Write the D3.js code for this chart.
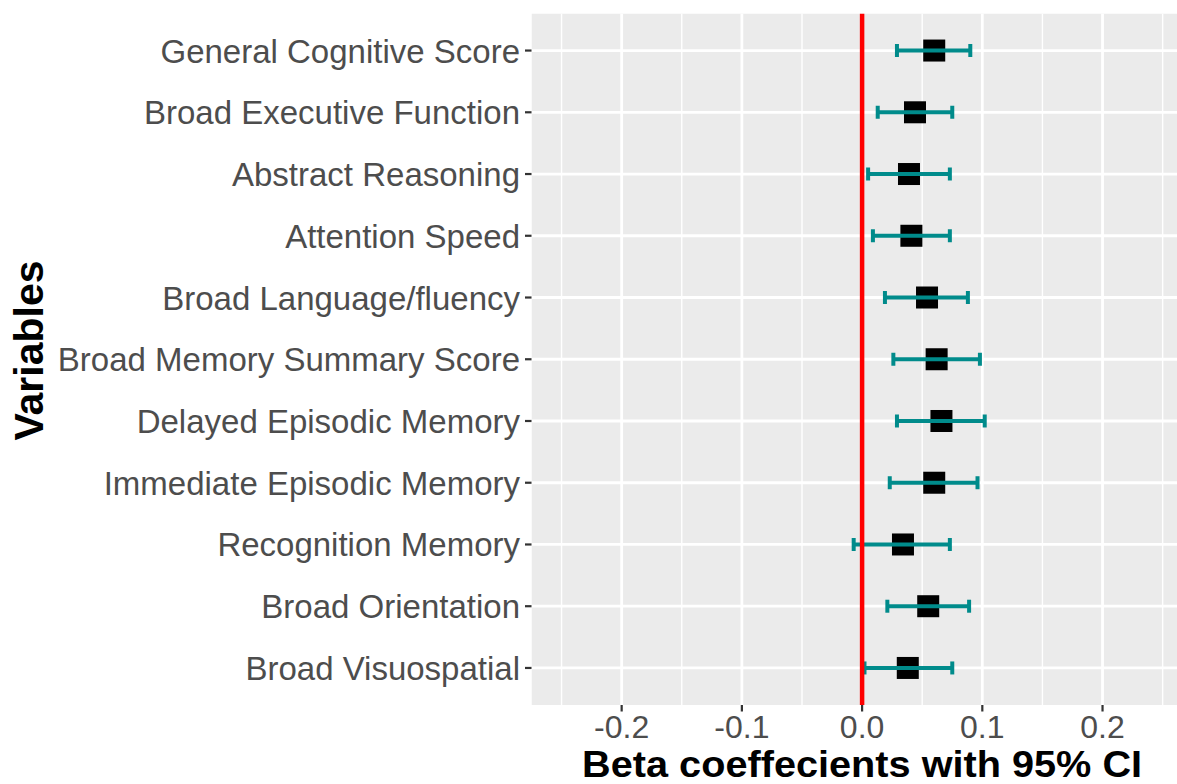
<!DOCTYPE html>
<html>
<head>
<meta charset="utf-8">
<script src="https://cdn.jsdelivr.net/npm/d3@7"></script>
<style>
  html, body { margin: 0; padding: 0; background: #fff; }
  svg { display: block; }
</style>
</head>
<body>
<svg id="chart" width="1177" height="784"></svg>
<script>
const categories = [
  "General Cognitive Score",
  "Broad Executive Function",
  "Abstract Reasoning",
  "Attention Speed",
  "Broad Language/fluency",
  "Broad Memory Summary Score",
  "Delayed Episodic Memory",
  "Immediate Episodic Memory",
  "Recognition Memory",
  "Broad Orientation",
  "Broad Visuospatial"
];
const beta  = [0.060, 0.044, 0.039, 0.041, 0.054, 0.062, 0.066, 0.060, 0.034, 0.055, 0.038];
const lower = [0.029, 0.013, 0.005, 0.009, 0.019, 0.026, 0.029, 0.023, -0.007, 0.021, 0.002];
const upper = [0.090, 0.075, 0.073, 0.073, 0.088, 0.098, 0.102, 0.096, 0.073, 0.089, 0.075];
const majorTicks = [-0.2, -0.1, 0.0, 0.1, 0.2];
const minorTicks = [-0.25, -0.15, -0.05, 0.05, 0.15, 0.25];
const tickLabels = ["-0.2", "-0.1", "0.0", "0.1", "0.2"];
const refValue = 0;
const xTitle = "Beta coeffecients with 95% CI";
const yTitle = "Variables";

const font = "'Liberation Sans', Arial, Helvetica, sans-serif";
const svg = d3.select("#chart");

const panel = { left: 531.5, right: 1192.7, top: 13.5, bottom: 705 };

const x = d3.scaleLinear().domain([-0.275, 0.275]).range([panel.left, panel.right]);
const y = d3.scalePoint().domain(categories).range([panel.top, panel.bottom]).padding(0.6);

svg.append("defs").append("clipPath").attr("id", "pclip")
  .append("rect")
  .attr("x", panel.left).attr("y", panel.top)
  .attr("width", panel.right - panel.left).attr("height", panel.bottom - panel.top);

const g = svg.append("g").attr("clip-path", "url(#pclip)");

// panel background
g.append("rect")
  .attr("x", panel.left).attr("y", panel.top)
  .attr("width", panel.right - panel.left).attr("height", panel.bottom - panel.top)
  .attr("fill", "#EBEBEB");

// minor grid
g.selectAll("line.minor").data(minorTicks).join("line")
  .attr("x1", d => x(d)).attr("x2", d => x(d))
  .attr("y1", panel.top).attr("y2", panel.bottom)
  .attr("stroke", "#fff").attr("stroke-width", 1.4);

// major grid vertical
g.selectAll("line.majorx").data(majorTicks).join("line")
  .attr("x1", d => x(d)).attr("x2", d => x(d))
  .attr("y1", panel.top).attr("y2", panel.bottom)
  .attr("stroke", "#fff").attr("stroke-width", 2.8);

// major grid horizontal
g.selectAll("line.majory").data(categories).join("line")
  .attr("x1", panel.left).attr("x2", panel.right)
  .attr("y1", d => y(d)).attr("y2", d => y(d))
  .attr("stroke", "#fff").attr("stroke-width", 2.8);

const teal = "#008B8B";
const capH = 11;

// points (squares)
const boxS = 22;
g.selectAll("rect.pt").data(categories).join("rect")
  .attr("x", (d, i) => x(beta[i]) - boxS / 2)
  .attr("y", d => y(d) - boxS / 2)
  .attr("width", boxS).attr("height", boxS)
  .attr("fill", "#000");

// error bars
const eb = g.selectAll("g.eb").data(categories).join("g");
eb.append("line")
  .attr("x1", (d, i) => x(lower[i])).attr("x2", (d, i) => x(upper[i]))
  .attr("y1", d => y(d)).attr("y2", d => y(d))
  .attr("stroke", teal).attr("stroke-width", 4);
eb.append("line")
  .attr("x1", (d, i) => x(lower[i])).attr("x2", (d, i) => x(lower[i]))
  .attr("y1", d => y(d) - capH / 2 - 1).attr("y2", d => y(d) + capH / 2 + 1)
  .attr("stroke", teal).attr("stroke-width", 4);
eb.append("line")
  .attr("x1", (d, i) => x(upper[i])).attr("x2", (d, i) => x(upper[i]))
  .attr("y1", d => y(d) - capH / 2 - 1).attr("y2", d => y(d) + capH / 2 + 1)
  .attr("stroke", teal).attr("stroke-width", 4);

// reference line
g.append("line")
  .attr("x1", x(refValue)).attr("x2", x(refValue))
  .attr("y1", panel.top).attr("y2", panel.bottom)
  .attr("stroke", "#FF0000").attr("stroke-width", 4.5);

// axes ticks
const tickColor = "#333333";
svg.selectAll("line.ytick").data(categories).join("line")
  .attr("x1", panel.left - 6.5).attr("x2", panel.left)
  .attr("y1", d => y(d)).attr("y2", d => y(d))
  .attr("stroke", tickColor).attr("stroke-width", 2.2);
svg.selectAll("line.xtick").data(majorTicks).join("line")
  .attr("x1", d => x(d)).attr("x2", d => x(d))
  .attr("y1", panel.bottom).attr("y2", panel.bottom + 6.5)
  .attr("stroke", tickColor).attr("stroke-width", 2.2);

// y labels
svg.selectAll("text.ylab").data(categories).join("text")
  .attr("x", 520).attr("y", d => y(d) + 12)
  .attr("text-anchor", "end")
  .attr("font-family", font).attr("font-size", 33)
  .attr("fill", "#4D4D4D")
  .text(d => d);

// x labels
svg.selectAll("text.xlab").data(majorTicks).join("text")
  .attr("x", d => x(d)).attr("y", 738)
  .attr("text-anchor", "middle")
  .attr("font-family", font).attr("font-size", 32)
  .attr("fill", "#4D4D4D")
  .text((d, i) => tickLabels[i]);

// x title
svg.append("text")
  .attr("x", (panel.left + panel.right) / 2).attr("y", 777)
  .attr("text-anchor", "middle")
  .attr("font-family", font).attr("font-size", 36).attr("font-weight", "bold")
  .attr("textLength", 560).attr("lengthAdjust", "spacingAndGlyphs")
  .attr("fill", "#000")
  .text(xTitle);

// y title
svg.append("text")
  .attr("transform", `translate(43, ${(258 + 443) / 2}) rotate(-90)`)
  .attr("text-anchor", "middle")
  .attr("font-family", font).attr("font-size", 41).attr("font-weight", "bold")
  .attr("fill", "#000")
  .text(yTitle);
</script>
</body>
</html>
